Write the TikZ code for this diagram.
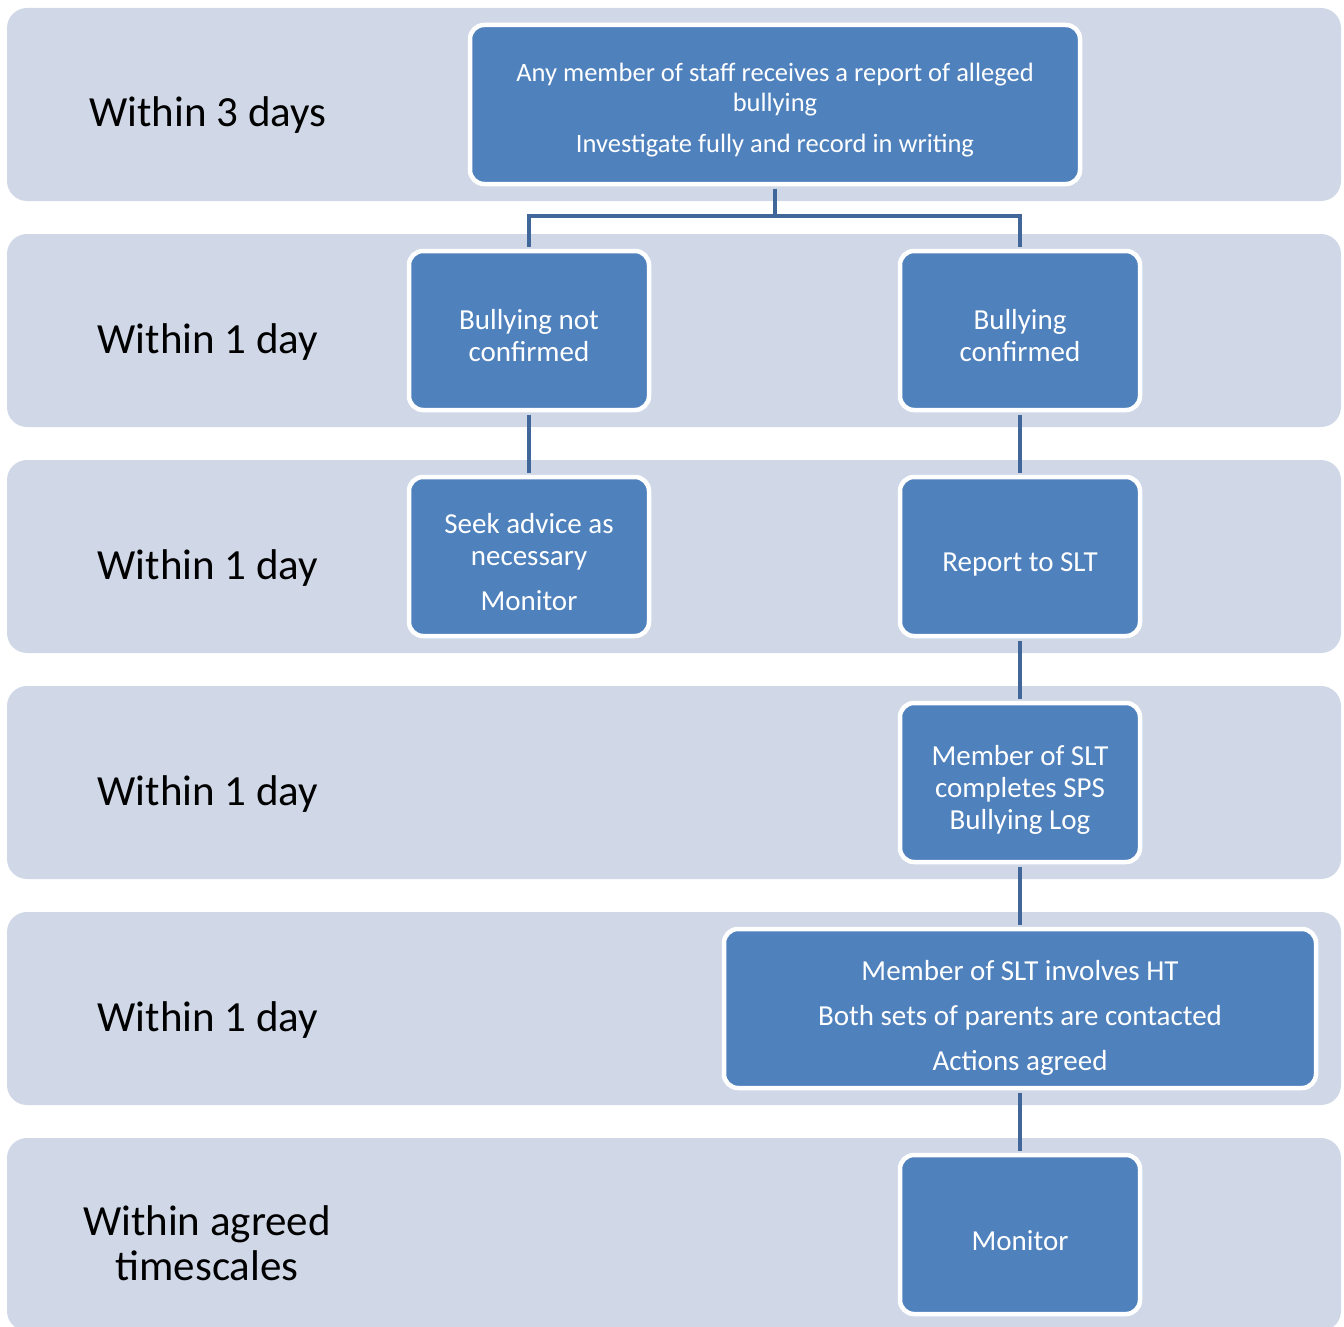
\documentclass[tikz,border=0pt]{standalone}
\usepackage{fontspec}
\setmainfont{Carlito}
\definecolor{bandc}{HTML}{D0D8E8}
\definecolor{boxc}{HTML}{4F81BD}
\definecolor{linec}{RGB}{65,103,154}
\begin{document}
\begin{tikzpicture}[x=1pt,y=-1pt,
  band/.style={fill=bandc,draw=none,rounded corners=20pt},
  stage/.style={font=\fontsize{43}{46}\selectfont,anchor=base,text=black,align=center,inner sep=0pt},
  flowbox/.style={rectangle,rounded corners=14pt,fill=boxc,draw=white,line width=4.5pt,
     minimum height=159pt,inner sep=0pt},
  boxtext/.style={text=white,align=center,inner sep=0pt,font=\fontsize{29}{32}\selectfont},
  link/.style={draw=linec,line width=4pt,line cap=butt}]
\useasboundingbox (0,0) rectangle (1344,1327);
\begin{scope}
\clip (0,0) rectangle (1344,1327);
\foreach \t in {8,234,460,686,912,1138}{
  \path[band] (7,\t) rectangle (1341,\t+193);
}
\end{scope}
\node[stage] (s1) at (208,127) {Within 3 days};
\node[stage] (s2) at (208,353) {Within 1 day};
\node[stage] (s3) at (208,579) {Within 1 day};
\node[stage] (s4) at (208,805) {Within 1 day};
\node[stage] (s5) at (208,1031) {Within 1 day};
\node[stage,anchor=center] (s6) at (207,1243) {Within agreed\\[-1pt]timescales};

\node[flowbox,minimum width=610pt] (b1) at (775,104.5) {};
\node[flowbox,minimum width=240pt] (b2) at (529,330.5) {};
\node[flowbox,minimum width=240pt] (b3) at (1020,330.5) {};
\node[flowbox,minimum width=240pt] (b4) at (529,556.5) {};
\node[flowbox,minimum width=240pt] (b5) at (1020,556.5) {};
\node[flowbox,minimum width=240pt] (b6) at (1020,782.5) {};
\node[flowbox,minimum width=592pt] (b7) at (1020,1008.5) {};
\node[flowbox,minimum width=240pt] (b8) at (1020,1234.5) {};

\node[boxtext,font=\fontsize{26.5}{30}\selectfont] (t1) at ([yshift=-6pt]b1.center)
  {Any member of staff receives a report of alleged\\bullying\\[11pt]Investigate fully and record in writing};
\node[boxtext] (t2) at ([yshift=-5pt]b2.center) {Bullying not\\confirmed};
\node[boxtext] (t3) at ([yshift=-5pt]b3.center) {Bullying\\confirmed};
\node[boxtext] (t4) at ([yshift=-6pt]b4.center) {Seek advice as\\necessary\\[13pt]Monitor};
\node[boxtext] (t5) at ([yshift=-8pt]b5.center) {Report to SLT};
\node[boxtext] (t6) at ([yshift=-7pt]b6.center) {Member of SLT\\completes SPS\\Bullying Log};
\node[boxtext] (t7) at ([yshift=-9pt]b7.center) {Member of SLT involves HT\\[13pt]Both sets of parents are contacted\\[13pt]Actions agreed};
\node[boxtext] (t8) at ([yshift=-6pt]b8.center) {Monitor};

\coordinate (j) at (775,216);
\path[link] ([yshift=-2.25pt]b1.south) -- (j);
\path[link] ([yshift=2.25pt]b2.north) |- (j) -| ([yshift=2.25pt]b3.north);
\path[link] ([yshift=-2.25pt]b2.south) -- ([yshift=2.25pt]b4.north);
\path[link] ([yshift=-2.25pt]b3.south) -- ([yshift=2.25pt]b5.north);
\path[link] ([yshift=-2.25pt]b5.south) -- ([yshift=2.25pt]b6.north);
\path[link] ([yshift=-2.25pt]b6.south) -- ([yshift=2.25pt]b7.north);
\path[link] ([yshift=-2.25pt]b7.south) -- ([yshift=2.25pt]b8.north);
\end{tikzpicture}
\end{document}
